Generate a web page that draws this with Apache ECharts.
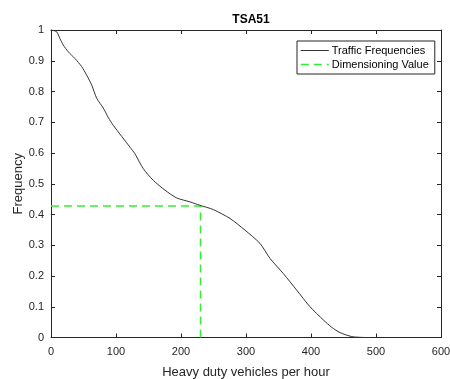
<!DOCTYPE html>
<html><head><meta charset="utf-8">
<script src="https://cdn.jsdelivr.net/npm/echarts@6/dist/echarts.min.js"></script>
<style>html,body{margin:0;padding:0;background:#fff}#c{width:450px;height:379px}</style>
</head><body><div id="c"></div>
<script>
var chartTitle = 'TSA51';
var xTicks = [0, 100, 200, 300, 400, 500, 600];
var yTicks = [0, 0.1, 0.2, 0.3, 0.4, 0.5, 0.6, 0.7, 0.8, 0.9, 1];
var freqX = [0, 3, 8.8, 13.8, 18.9, 26.6, 36.9, 47.2, 54.9, 62.6, 70.3, 80.5, 88.2, 95.8, 121.5, 129, 142, 157.4, 175.4, 193.3, 213.8, 229, 249.7, 275.4, 298.5, 321.5, 337, 357.4, 378, 398.5, 419, 432, 444.6, 462.6, 475, 485.7, 492];
var freqY = [1.0, 0.999, 0.994, 0.972, 0.951, 0.929, 0.907, 0.881, 0.853, 0.821, 0.778, 0.746, 0.715, 0.690, 0.619, 0.598, 0.549, 0.511, 0.479, 0.454, 0.441, 0.430, 0.416, 0.387, 0.349, 0.306, 0.257, 0.208, 0.154, 0.100, 0.057, 0.033, 0.016, 0.003, 0.0006, 0.0, 0.0];
var dimValueX = 230;
var dimValueY = 0.428;
var dimX = [0, dimValueX, dimValueX];
var dimY = [dimValueY, dimValueY, 0];

var chart = echarts.init(document.getElementById('c'));
var axisCol = '#262626';
var font = 'Liberation Sans, Arial, sans-serif';
function xy(xs, ys){ return xs.map(function(v,i){return [v, ys[i]];}); }
var baseX = {type:'value', min:0, max:600, interval:100,
  axisLine:{show:true, onZero:false, lineStyle:{color:axisCol, width:1}},
  axisTick:{show:true, inside:true, length:4, lineStyle:{color:axisCol}},
  splitLine:{show:false}};
var baseY = {type:'value', min:0, max:1, interval:0.1,
  axisLine:{show:true, onZero:false, lineStyle:{color:axisCol, width:1}},
  axisTick:{show:true, inside:true, length:4, lineStyle:{color:axisCol}},
  splitLine:{show:false}};
chart.setOption({
  animation:false,
  backgroundColor:'#fff',
  title:{text:chartTitle, left:246, top:9, textAlign:'center',
    textStyle:{fontFamily:font, fontSize:12, fontWeight:'bold', color:'#000'}},
  legend:{orient:'vertical', left:297, top:41, width:126,
    backgroundColor:'#fff', borderColor:axisCol, borderWidth:1,
    padding:[4,6,4,3], itemGap:3, itemWidth:28, itemHeight:10,
    itemStyle:{opacity:0},
    textStyle:{fontFamily:font, fontSize:11, color:'#000', padding:[0,0,0,-2]},
    data:[{name:'Traffic Frequencies', lineStyle:{width:1}},
          {name:'Dimensioning Value', lineStyle:{width:1.5}}]},
  grid:{left:51, right:9, top:30, bottom:41.5, outerBoundsMode:'none', containLabel:false},
  xAxis:[
    Object.assign({}, baseX, {position:'bottom', name:'Heavy duty vehicles per hour', nameLocation:'middle', nameGap:28,
      nameMoveOverlap:false,
      nameTextStyle:{fontFamily:font, fontSize:13, color:axisCol},
      axisLabel:{show:true, margin:9, fontFamily:font, fontSize:11, color:axisCol,
        formatter:function(v){return xTicks.indexOf(v)>=0?String(v):'';}}}),
    Object.assign({}, baseX, {position:'top', axisLabel:{show:false}})
  ],
  yAxis:[
    Object.assign({}, baseY, {position:'left', name:'Frequency', nameLocation:'middle', nameGap:26,
      nameMoveOverlap:false,
      nameTextStyle:{fontFamily:font, fontSize:13, color:axisCol},
      axisLabel:{show:true, margin:7, fontFamily:font, fontSize:11, color:axisCol,
        formatter:function(v){var r=Math.round(v*10)/10; return String(r);}}}),
    Object.assign({}, baseY, {position:'right', axisLabel:{show:false}})
  ],
  series:[
    {name:'Traffic Frequencies', type:'line', xAxisIndex:0, yAxisIndex:0, symbol:'none', smooth:0.25,
      data:xy(freqX, freqY), lineStyle:{color:'#333', width:1}, itemStyle:{color:'#333'}, z:3},
    {name:'Dimensioning Value', type:'line', xAxisIndex:0, yAxisIndex:0, symbol:'none',
      data:xy(dimX, dimY), lineStyle:{color:'#33ee33', width:1.5, type:[8,5]}, itemStyle:{color:'#33ee33'}, z:2}
  ]
});
</script></body></html>
